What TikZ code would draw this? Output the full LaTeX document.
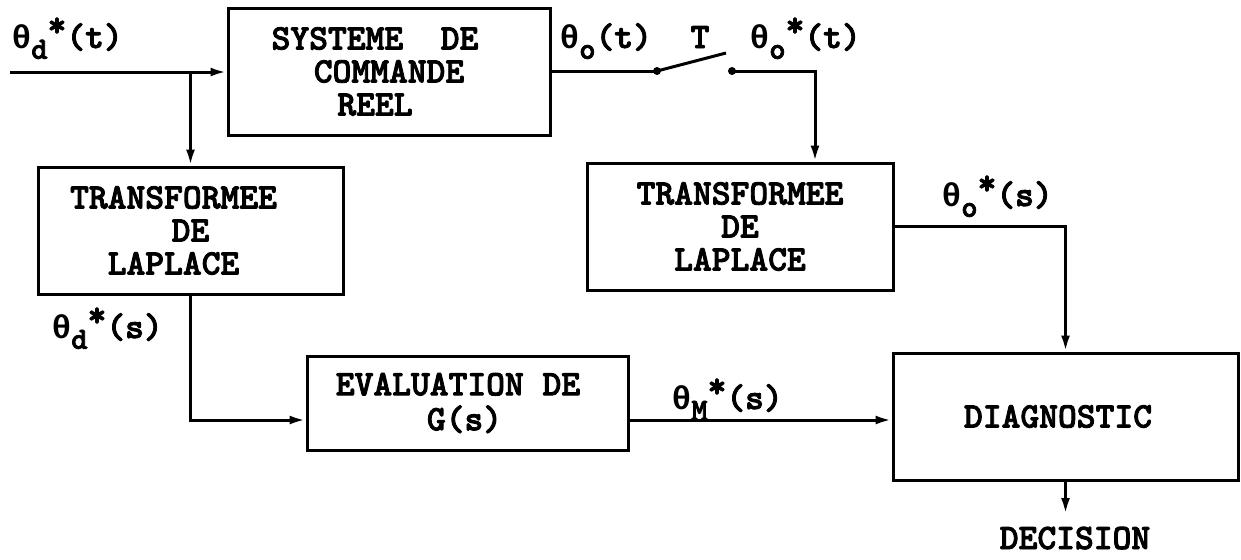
\documentclass[tikz,border=0pt]{standalone}
\usepackage{fontspec}
\newfontfamily\gk{Liberation Mono}
\newfontfamily\cour{lmmonolt10-bold.otf}[FakeBold=2.4]
\usetikzlibrary{arrows.meta}
\newcommand\sig[3]{{\gk\bfseries\fontsize{16.5}{16}\selectfont θ}\raisebox{-0.7ex}{\fontsize{15.5}{15}\selectfont #1}\raisebox{0.75ex}{#2}(#3)}
\newcommand\sh[1]{\hspace*{#1}}
\begin{document}
\begin{tikzpicture}[x=0.5pt,y=-0.5pt, line width=1.5pt,
  box/.style={draw, align=center, inner sep=0pt, font=\cour\fontsize{17.9}{16.5}\selectfont},
  lbl/.style={inner sep=0pt, font=\cour\fontsize{17.9}{16}\selectfont},
  arr/.style={-{Latex[length=8pt,width=4.5pt]}},
  dot/.style={circle, fill, inner sep=0pt, minimum size=4pt}]
\useasboundingbox (0,0) rectangle (1241,559);
% boxes
\node[box, minimum width=161pt, minimum height=63.5pt] (sys) at (389,71.5) {SYSTEME\ \ DE\sh{14pt}\\COMMANDE\sh{14pt}\\REEL\sh{14pt}};
\node[box, minimum width=152.5pt, minimum height=63.5pt] (tl1) at (190.5,230.5) {TRANSFORMEE\sh{17pt}\\DE\sh{17pt}\\LAPLACE\sh{17pt}};
\node[box, minimum width=153pt, minimum height=63.5pt] (tl2) at (740,226.5) {TRANSFORMEE\\DE\\LAPLACE};
\node[box, minimum width=160.5pt, minimum height=47pt, font=\cour\fontsize{17.9}{17.5}\selectfont] (g) at (467.5,403) {EVALUATION DE\sh{9.5pt}\\G(s)\sh{3pt}};
\node[box, minimum width=172.5pt, minimum height=63.5pt] (diag) at (1065.5,416.5) {DIAGNOSTIC\sh{7.5pt}};
\node[lbl, anchor=base] (dec) at (1075,549) {DECISION};
% labels
\node[lbl, anchor=base west] (ldt) at (10,48) {\sig{d}{*}{t}};
\node[lbl, anchor=base west] (lot) at (558,48) {\sig{o}{}{t}};
\node[lbl, anchor=base] (lT) at (700,48) {T};
\node[lbl, anchor=base west] (lost) at (748,48) {\sig{o}{*}{t}};
\node[lbl, anchor=base west] (loss) at (940,206) {\sig{o}{*}{s}};
\node[lbl, anchor=base west] (lds) at (50,338) {\sig{d}{*}{s}};
\node[lbl, anchor=base west] (lms) at (670,409) {\sig{M}{*}{s}};
% switch
\node[dot] (s1) at (657,71) {};
\node[dot] (s2) at (732,71) {};
\coordinate (blade) at (726,53);
\coordinate (in) at (10,72);
\coordinate (br) at (tl1.north |- in);
\coordinate (c2) at (815,71);
\coordinate (decin) at (1065.5,514);
% connectors
\draw[arr] (in) -- (in -| sys.west);
\draw[arr] (br) -- (tl1.north);
\draw[arr] (tl1.south) |- ([yshift=-8.5pt]g.west);
\draw[arr] ([yshift=-8.5pt]g.east) -- ([yshift=-8.5pt]g.east -| diag.west);
\draw (s1 -| sys.east) -- (s1.center);
\draw (s1.center) -- (blade);
\draw[arr] (s2.center) -| (c2 |- tl2.north);
\draw[arr] (tl2.east) -| (diag.north);
\draw[arr] (diag.south) -- (decin);
\end{tikzpicture}
\end{document}
